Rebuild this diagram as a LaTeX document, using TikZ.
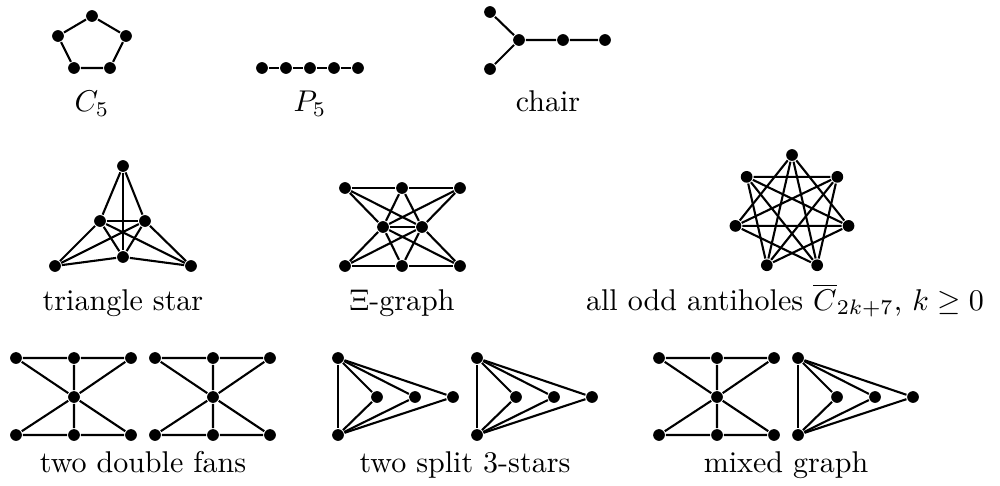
\documentclass[tikz,border=0pt]{standalone}
\usepackage{amsfonts,amssymb,amsmath}
\usepackage{tikz}
\usetikzlibrary{positioning}

\tikzset{vtx/.style={circle,fill=black,inner sep=0pt,minimum size=3.9pt},
lbl/.style={anchor=base,inner sep=0pt}}

\newcommand{\dblfan}[2]{%
\node[vtx](#1a) at (#2,358){};
\node[vtx](#1b) at ({#2+58},358){};
\node[vtx](#1c) at ({#2+115},358){};
\node[vtx](#1m) at ({#2+58},397){};
\node[vtx](#1d) at (#2,435){};
\node[vtx](#1e) at ({#2+58},435){};
\node[vtx](#1f) at ({#2+115},435){};
\draw (#1a)--(#1b)--(#1c) (#1d)--(#1e)--(#1f) (#1b)--(#1m)--(#1e)
(#1a)--(#1m)--(#1f) (#1c)--(#1m)--(#1d);}

\newcommand{\splitstar}[2]{%
\node[vtx](#1t) at (#2,358){};
\node[vtx](#1b) at (#2,435){};
\foreach \n/\d in {1/39,2/77,3/115}{
\node[vtx](#1\n) at ({#2+\d},397){};
\draw (#1t)--(#1\n)--(#1b);}
\draw (#1t)--(#1b);}

\begin{document}
\begin{tikzpicture}[x=0.333pt,y=-0.333pt,line width=0.7pt]
\useasboundingbox (0,0) rectangle (1000,486);
\foreach \n/\x/\y in {1/92/16,2/126/36,3/110/68,4/74/68,5/58/36}
\node[vtx](c\n) at (\x,\y){};
\draw (c1)--(c2)--(c3)--(c4)--(c5)--(c1);
\node[lbl](lc) at (92,112){$C_5$};
\foreach \n/\x in {1/262,2/286,3/310,4/334,5/358}
\node[vtx](p\n) at (\x,68){};
\draw (p1)--(p2)--(p3)--(p4)--(p5);
\node[lbl](lp) at (310,112){$P_5$};
\foreach \n/\x/\y in {1/490/12,2/519/40,3/563/40,4/605/40,5/490/69}
\node[vtx](h\n) at (\x,\y){};
\draw (h1)--(h2)--(h3)--(h4) (h5)--(h2);
\node[lbl](lh) at (548,112){chair};
\foreach \n/\x/\y in {1/123/166,2/100/221,3/145/221,4/123/257,5/55/266,6/191/266}
\node[vtx](t\n) at (\x,\y){};
\foreach \a/\b in {1/2,1/3,1/4,2/3,2/4,3/4,2/5,2/6,3/5,3/6,4/5,4/6}
\draw (t\a)--(t\b);
\node[lbl](lt) at (123,310){triangle star};
\foreach \n/\x/\y in {1/345/188,2/402/188,3/460/188,4/383/227,5/422/227,6/345/266,7/402/266,8/460/266}
\node[vtx](x\n) at (\x,\y){};
\draw (x1)--(x2)--(x3) (x6)--(x7)--(x8) (x4)--(x5);
\foreach \a in {1,2,3,6,7,8}
\draw (x\a)--(x4) (x\a)--(x5);
\node[lbl](lx) at (402,310){$\Xi$-graph};
\foreach \i in {0,...,6}
\node[vtx](a\i) at ({792+58*cos(90+\i*360/7)},{213-58*sin(90+\i*360/7)}){};
\foreach \i in {0,...,6}{
\pgfmathtruncatemacro\j{mod(\i+2,7)}
\pgfmathtruncatemacro\k{mod(\i+3,7)}
\draw (a\i)--(a\j) (a\i)--(a\k);}
\node[lbl](la) at (785,310){all odd antiholes $\overline{C}_{2k+7}$, $k\geq 0$};
\dblfan{fa}{16}
\dblfan{fb}{155}
\node[lbl](lf) at (143,472){two double fans};
\splitstar{sa}{338}
\splitstar{sb}{477}
\node[lbl](ls) at (465,472){two split 3-stars};
\dblfan{ma}{659}
\splitstar{ms}{798}
\node[lbl](lm) at (786,472){mixed graph};
\end{tikzpicture}
\end{document}
